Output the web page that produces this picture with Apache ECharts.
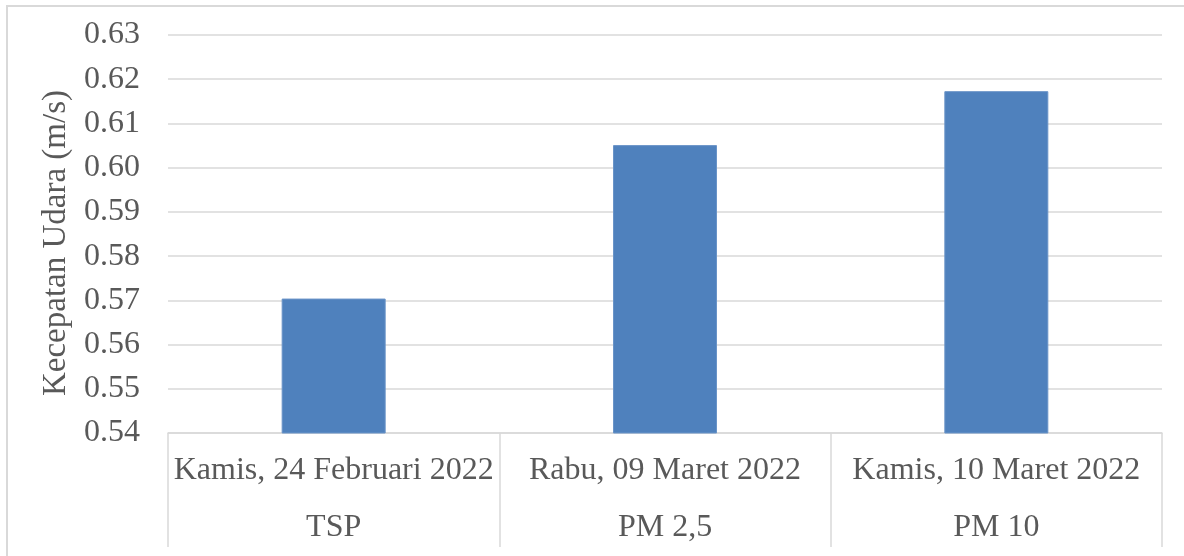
<!DOCTYPE html>
<html>
<head>
<meta charset="utf-8">
<script src="https://cdn.jsdelivr.net/npm/echarts@6/dist/echarts.min.js"></script>
<style>
  html, body { margin: 0; padding: 0; background: #fff; }
  #frame { position: absolute; left: 6px; top: 5px; width: 1200px; height: 600px;
           border-left: 2px solid #d9d9d9; border-top: 2px solid #d9d9d9; }
  #chart { position: absolute; left: 0; top: 0; width: 1184px; height: 556px; }
</style>
</head>
<body>
<div id="frame"></div>
<div id="chart"></div>
<script>
var dates = ['Kamis, 24 Februari 2022', 'Rabu, 09 Maret 2022', 'Kamis, 10 Maret 2022'];
var pollutants = ['TSP', 'PM 2,5', 'PM 10'];
var speeds = [0.5704, 0.6051, 0.6173];

var chart = echarts.init(document.getElementById('chart'));
var font = '"Liberation Serif", "Times New Roman", serif';

var option = {
  animation: false,
  grid: { left: 168, right: 22, top: 35, bottom: 123 },
  xAxis: {
    type: 'category',
    data: dates.map(function (d, i) { return d + '\n' + pollutants[i]; }),
    axisLine: { lineStyle: { color: '#d9d9d9', width: 1.5 } },
    axisTick: { show: true, interval: 0, length: 114, lineStyle: { color: '#d9d9d9', width: 1.5 } },
    axisLabel: {
      interval: 0, margin: 9, lineHeight: 57,
      color: '#595959', fontFamily: font, fontSize: 32
    }
  },
  yAxis: {
    type: 'value',
    min: 0.54, max: 0.63, interval: 0.01,
    name: 'Kecepatan Udara (m/s)',
    nameLocation: 'middle',
    nameGap: 87,
    nameTextStyle: { color: '#595959', fontFamily: font, fontSize: 33, padding: [0, 18, 0, 0] },
    axisLine: { show: false },
    axisTick: { show: false },
    splitLine: { lineStyle: { color: '#d9d9d9', width: 1.5 } },
    axisLabel: {
      margin: 28, color: '#595959', fontFamily: font, fontSize: 32,
      formatter: function (v) { return v.toFixed(2); }
    }
  },
  series: [{
    type: 'bar',
    data: speeds,
    barWidth: 104,
    itemStyle: { color: '#4f81bd', borderColor: '#6a94c8', borderWidth: 1 }
  }]
};
chart.setOption(option);
</script>
</body>
</html>
